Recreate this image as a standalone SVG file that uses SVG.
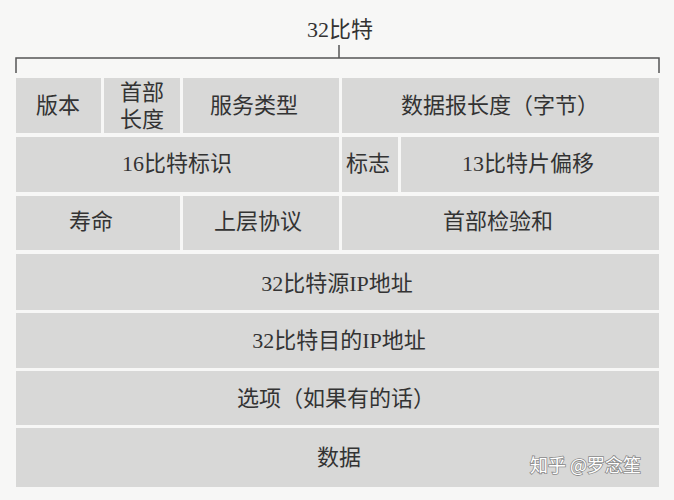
<svg xmlns="http://www.w3.org/2000/svg" width="674" height="500" viewBox="0 0 674 500">
<style>
.bg{fill:#f7f7f6}
.cell{fill:#d8d8d7}
.t{font-family:"Liberation Serif","Noto Sans CJK SC",serif;font-size:22px;fill:#333333;text-anchor:middle;dominant-baseline:central}
.brace{fill:none;stroke:#555;stroke-width:1.5}
.wm{font-family:"Noto Sans CJK SC",sans-serif;font-size:18px;fill:#ffffff;stroke:#8a8a8a;stroke-width:1.6;paint-order:stroke;text-anchor:start}
</style>
<rect class="bg" x="0" y="0" width="674" height="500"/>
<g id="title"><text class="t" x="340" y="29">32比特</text></g>
<g id="connectors">
<path class="brace" d="M16,73 V58 H659 V73 M339,58 V45"/>
</g>
<g id="version"><rect class="cell" x="16" y="78" width="85" height="55"/><text class="t" x="58" y="105">版本</text></g>
<g id="ihl"><rect class="cell" x="104" y="78" width="76" height="55"/><text class="t" x="142" y="92">首部</text><text class="t" x="142" y="119">长度</text></g>
<g id="tos"><rect class="cell" x="183" y="78" width="156" height="55"/><text class="t" x="254" y="105">服务类型</text></g>
<g id="length"><rect class="cell" x="342" y="78" width="317" height="55"/><text class="t" x="500" y="105">数据报长度（字节）</text></g>
<g id="ident"><rect class="cell" x="16" y="137" width="323" height="55"/><text class="t" x="177" y="163">16比特标识</text></g>
<g id="flags"><rect class="cell" x="342" y="137" width="56" height="55"/><text class="t" x="368" y="163">标志</text></g>
<g id="offset"><rect class="cell" x="401" y="137" width="258" height="55"/><text class="t" x="528" y="163">13比特片偏移</text></g>
<g id="ttl"><rect class="cell" x="16" y="196" width="164" height="54"/><text class="t" x="91" y="221">寿命</text></g>
<g id="proto"><rect class="cell" x="183" y="196" width="156" height="54"/><text class="t" x="258" y="221">上层协议</text></g>
<g id="checksum"><rect class="cell" x="342" y="196" width="317" height="54"/><text class="t" x="498" y="221">首部检验和</text></g>
<g id="src"><rect class="cell" x="16" y="254" width="643" height="56"/><text class="t" x="337" y="283">32比特源IP地址</text></g>
<g id="dst"><rect class="cell" x="16" y="313" width="643" height="55"/><text class="t" x="339" y="340">32比特目的IP地址</text></g>
<g id="options"><rect class="cell" x="16" y="371" width="643" height="54"/><text class="t" x="336" y="398">选项（如果有的话）</text></g>
<g id="data"><rect class="cell" x="16" y="428" width="643" height="59"/><text class="t" x="339" y="457">数据</text></g>
<text class="wm" x="530" y="472">知乎 @罗念笙</text>
</svg>
